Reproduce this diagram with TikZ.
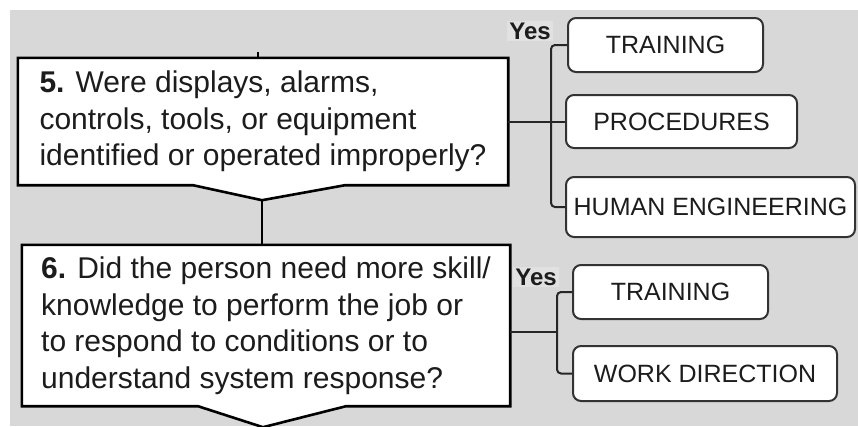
\documentclass[tikz,border=0pt]{standalone}
\usepackage{fontspec}
\setmainfont{Liberation Sans}
\usetikzlibrary{calc,backgrounds}
\definecolor{panel}{RGB}{216,216,216}
\definecolor{yesbg}{RGB}{225,225,225}
\definecolor{ink}{RGB}{28,28,28}

\begin{document}
\begin{tikzpicture}[x=1pt,y=-1pt,
  question/.style={minimum width=#1, inner sep=0pt, text=ink, align=left,
    font=\fontsize{30}{36.5}\selectfont},
  outline/.style={draw=black, line width=2.6pt, fill=white, line join=miter},
  answer/.style={draw=black!80, line width=2pt, fill=white, rounded corners=8pt,
    inner sep=0pt, text=ink, font=\fontsize{25}{30}\selectfont},
  conn/.style={draw=black!85, line width=2pt},
  link/.style={draw=black, line width=2.2pt},
  yes/.style={fill=yesbg, inner sep=2pt, text=ink,
    font=\fontsize{24}{28}\selectfont\bfseries}
]
\useasboundingbox (0,0) rectangle (858,426);

% question boxes (text only; outlines go on the background layer)
\node[question=490, minimum height=127] (q5) at (263,121.5)
  {\textbf{5.} Were displays, alarms,\\
   controls, tools, or equipment\\
   identified or operated improperly?};
\node[question=488, minimum height=161] (q6) at (266,325.5)
  {\textbf{6.} Did the person need more skill/\\
   knowledge to perform the job or\\
   to respond to conditions or to\\
   understand system response?};

\begin{scope}[on background layer]
  \fill[white] (0,0) rectangle (858,426);
  \fill[panel] (10,10) rectangle (858,426);
  \draw[outline] (q5.north west) -- (q5.north east) -- (q5.south east)
    -- ($(q5.south)+(82,0)$) -- ($(q5.south)+(-1,15)$) coordinate (q5tip)
    -- ($(q5.south)+(-70,0)$) -- (q5.south west) -- cycle;
  \draw[outline] (q6.north west) -- (q6.north east) -- (q6.south east)
    -- ($(q6.south)+(80,0)$) -- ($(q6.south)+(-3,21)$) coordinate (q6tip)
    -- ($(q6.south)+(-68,0)$) -- (q6.south west) -- cycle;
\end{scope}

% answer boxes
\node[answer, minimum width=195, minimum height=54] (t1) at (665.5,45) {TRAINING};
\node[answer, minimum width=231, minimum height=53] (pr) at (681.5,121.5) {PROCEDURES};
\node[answer, minimum width=289, minimum height=60] (he) at (710.5,207) {HUMAN ENGINEERING};
\node[answer, minimum width=195, minimum height=54] (t2) at (670.5,292) {TRAINING};
\node[answer, minimum width=264, minimum height=55] (wd) at (705,373.5) {WORK DIRECTION};

% "Yes" labels
\node[yes] (y1) at (530,31) {Yes};
\node[yes] (y2) at (536,277) {Yes};

% main flow
\coordinate (prev) at (258,52);
\draw[link] (prev) -- (prev |- q5.north);
\draw[link] (q5tip) -- (q5tip |- q6.north);

% branches to the answers
\coordinate (bus1) at (551,121.5);
\draw[conn] (q5.east) -- (pr.west);
\draw[conn, rounded corners=4pt] (t1.west) -- (t1.west -| bus1) -- (he.west -| bus1) -- (he.west);

\coordinate (bus2) at (557,332);
\draw[conn] (q6.east |- bus2) -- (bus2);
\draw[conn, rounded corners=4pt] (t2.west) -- (t2.west -| bus2) -- (wd.west -| bus2) -- (wd.west);
\end{tikzpicture}
\end{document}
